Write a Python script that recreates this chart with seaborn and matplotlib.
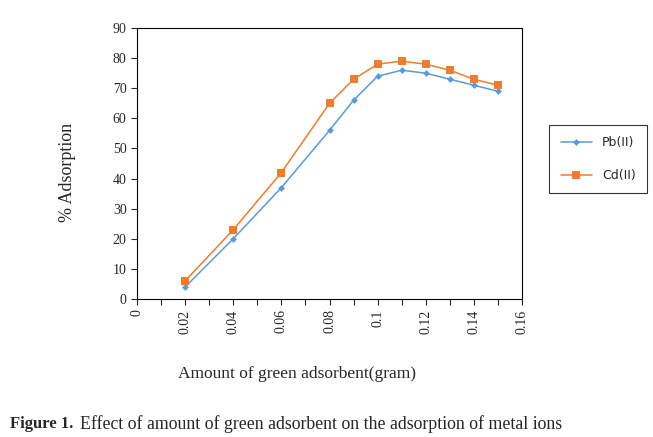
import matplotlib
matplotlib.use("Agg")
import matplotlib.pyplot as plt
import seaborn as sns
import pandas as pd
from matplotlib.ticker import MultipleLocator
from matplotlib.lines import Line2D

amount = [0.02, 0.04, 0.06, 0.08, 0.09, 0.10, 0.11, 0.12, 0.13, 0.14, 0.15]
pb = [4, 20, 37, 56, 66, 74, 76, 75, 73, 71, 69]
cd = [6, 23, 42, 65, 73, 78, 79, 78, 76, 73, 71]

df = pd.DataFrame({'amount': amount * 2,
                   'value': pb + cd,
                   'ion': ['Pb(II)'] * len(pb) + ['Cd(II)'] * len(cd)})

sns.set_style("white")
plt.rcParams['font.family'] = ['Liberation Serif', 'DejaVu Serif']

fig = plt.figure(figsize=(6.53, 4.37), dpi=100)
ax = fig.add_axes([0.2098, 0.3158, 0.5896, 0.620])

sns.lineplot(data=df, x='amount', y='value', hue='ion', style='ion',
             palette={'Pb(II)': '#5B9BD5', 'Cd(II)': '#ED7D31'},
             markers={'Pb(II)': 'D', 'Cd(II)': 's'},
             dashes=False, linewidth=1.1, markeredgewidth=0, ax=ax,
             legend=False)
# marker sizes differ per series
for line, ms in zip(ax.lines, [3.5, 6]):
    line.set_markersize(ms)

ax.set_xlim(0, 0.16)
ax.set_ylim(0, 90)
ax.xaxis.set_minor_locator(MultipleLocator(0.01))
ax.yaxis.set_major_locator(MultipleLocator(10))
ax.set_xticks([0, 0.02, 0.04, 0.06, 0.08, 0.1, 0.12, 0.14, 0.16])
ax.set_xticklabels(['0', '0.02', '0.04', '0.06', '0.08', '0.1', '0.12', '0.14', '0.16'],
                   rotation=90, fontsize=10)
ax.tick_params(axis='y', labelsize=10, left=True, length=4, width=0.8)
ax.tick_params(axis='x', which='both', bottom=True, length=4, width=0.8, direction='out')
for s in ax.spines.values():
    s.set_color('black')
    s.set_linewidth(0.8)

ax.set_xlabel('')
ax.set_ylabel('')
fig.text(0.104, 0.606, '% Adsorption', rotation=90, ha='center', va='center', fontsize=13)
fig.text(0.455, 0.144, 'Amount of green adsorbent(gram)', ha='center', va='center', fontsize=12.5)

handles = [Line2D([], [], color='#5B9BD5', marker='D', markersize=3.5, markeredgewidth=0, lw=1.1),
           Line2D([], [], color='#ED7D31', marker='s', markersize=6, markeredgewidth=0, lw=1.1)]
leg = fig.legend(handles, ['Pb(II)', 'Cd(II)'], loc='center',
                 bbox_to_anchor=(0.916, 0.636), frameon=True, fancybox=False,
                 edgecolor='black', labelspacing=1.6, handlelength=2.5,
                 prop={'family': 'DejaVu Sans', 'size': 9}, borderpad=0.9)
leg.get_frame().set_linewidth(0.8)

fig.text(0.015, 0.03, 'Figure 1.', fontsize=12, fontweight='bold', ha='left', va='center')
fig.text(0.122, 0.03, 'Effect of amount of green adsorbent on the adsorption of metal ions',
         fontsize=12.8, ha='left', va='center')

fig.savefig('out.png', dpi=100)
